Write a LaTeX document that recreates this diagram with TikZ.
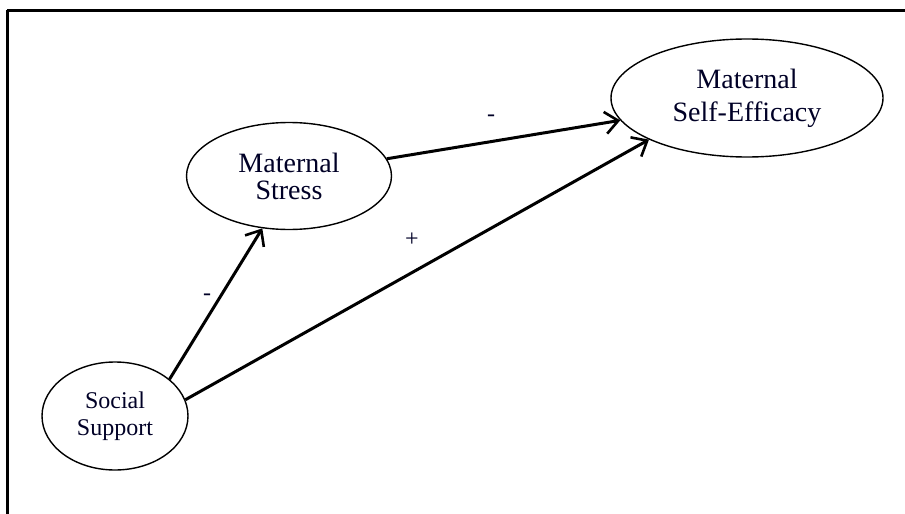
\documentclass[tikz,border=0pt]{standalone}
\usepackage{fontspec}
\setmainfont{Liberation Serif}
\usetikzlibrary{shapes.geometric,arrows.meta}
\begin{document}
\begin{tikzpicture}
            [x=1pt, y=-1pt,
             construct/.style = {ellipse, draw, line width=1.4pt, inner sep=0pt, align=center, text=black!85!blue},
             path/.style = {line width=3pt, -{Straight Barb[length=13pt, width=22pt, line width=2.6pt]}},
             sign/.style = {font=\fontsize{24}{24}\selectfont, text=black!85!blue}]
            \useasboundingbox (0,0) rectangle (905,514);
            \draw[line width=3pt] (7,10) -- (915,10);
            \draw[line width=3pt] (7,10) -- (7,524);
            \node[construct] (stress) at (289,176) [minimum width=205pt, minimum height=107pt, font=\fontsize{28}{27}\selectfont] {Maternal\\Stress};
            \node[construct] (efficacy) at (747,98) [minimum width=272pt, minimum height=118pt, font=\fontsize{28}{33}\selectfont] {Maternal\\Self-Efficacy};
            \node[construct] (support) at (115,416) [minimum width=146pt, minimum height=108pt, font=\fontsize{24}{27}\selectfont] {Social\\Support};
            \draw[path] (support.34) -- (stress.243);
            \draw[path] (support.13) -- (efficacy.203);
            \draw[path] (stress.10) -- (efficacy.190);
            \node[sign] (minusA) at (207,297) {-};
            \node[sign] (plus) at (412,240) {+};
            \node[sign] (minusB) at (491,118) {-};
        \end{tikzpicture}
\end{document}
